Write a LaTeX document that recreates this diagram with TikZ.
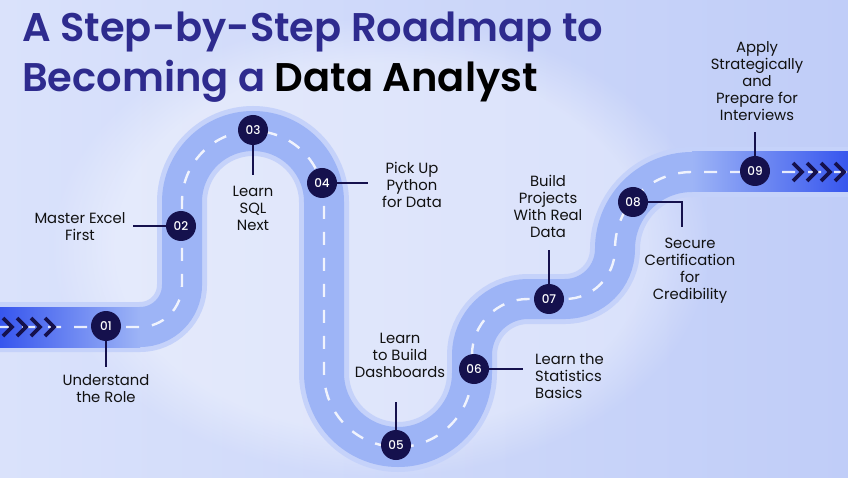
\documentclass[tikz,border=0pt]{standalone}
\usepackage{fontspec}
\setmainfont{Poppins}
\newfontfamily\titlefont{Poppins SemiBold}
\newfontfamily\numfont{Poppins Medium}
\usetikzlibrary{fadings}
\definecolor{navy}{HTML}{15114D}
\definecolor{titlecol}{HTML}{2E2B8E}
\definecolor{roadcol}{HTML}{9DB4F6}
\definecolor{halocol}{HTML}{C5D2FA}
\definecolor{deepblue}{HTML}{3756EE}
\definecolor{bgleft}{HTML}{DAE2FB}
\definecolor{bgright}{HTML}{C0CDF8}
\definecolor{labelcol}{HTML}{111111}
\tikzset{
  stepdot/.style={circle, fill=navy, minimum size=30pt, inner sep=0pt, text=white, font=\numfont\fontsize{12}{12}\selectfont},
  conn/.style={draw=navy, line width=2pt},
  lbl/.style={align=center, inner sep=0pt, text=labelcol, font=\fontsize{14.8}{17}\selectfont},
  chev/.style={draw=navy, line width=3.6pt, line join=miter},
  titletxt/.style={anchor=base west, inner sep=0pt, font=\titlefont\fontsize{40}{48}\selectfont}
}
\def\roadpath{(-30,150) -- (140,150) arc[start angle=-90,end angle=0,radius=42] -- (182,275) arc[start angle=180,end angle=0,radius=71] -- (324,104) arc[start angle=180,end angle=360,radius=74] -- (472,122) arc[start angle=180,end angle=90,radius=56] -- (565,178) arc[start angle=-90,end angle=0,radius=50] arc[start angle=180,end angle=90,radius=77] -- (880,305)}
\begin{document}
\begin{tikzpicture}[x=1pt,y=1pt]
\useasboundingbox (0,0) rectangle (848,477);
% background
\shade[left color=bgleft, right color=bgright] (0,0) rectangle (848,477);
\fill[white, opacity=0.35, path fading=circle with fuzzy edge 20 percent] (380,230) ellipse (330 and 230);
% road
\draw[halocol, line width=50pt] \roadpath;
\draw[roadcol, line width=40pt] \roadpath;
\shade[left color=deepblue, right color=roadcol] (0,130) rectangle (140,170);
\shade[left color=roadcol, right color=deepblue] (692,285) rectangle (848,325);
\draw[white, opacity=0.85, line width=2.4pt, dash pattern=on 13pt off 13pt] \roadpath;
% chevrons
\foreach \xx in {3,17,31,45} {\draw[chev] (\xx,159) -- (\xx+9,150) -- (\xx,141);}
\foreach \xx in {793,807,821,835} {\draw[chev] (\xx,314) -- (\xx+9,305) -- (\xx,296);}
% title
\node[titletxt, text=titlecol] (t1) at (22,435) {A Step-by-Step Roadmap to};
\node[titletxt, text=titlecol] (t2) at (22,385) {Becoming a \textcolor{black}{Data Analyst}};
% connector ends
\coordinate (k1) at (106,110);
\coordinate (k2) at (133,251);
\coordinate (k3) at (253,302);
\coordinate (k4) at (368,294);
\coordinate (k5) at (396,75);
\coordinate (k6) at (523,108);
\coordinate (k7) at (549,227);
\coordinate (k8) at (682,250);
\coordinate (k9) at (755,345);
% step circles
\node[stepdot] (c1) at (106,151) {01};
\node[stepdot] (c2) at (181,251) {02};
\node[stepdot] (c3) at (253,347) {03};
\node[stepdot] (c4) at (322,294) {04};
\node[stepdot] (c5) at (396,32) {05};
\node[stepdot] (c6) at (474,108) {06};
\node[stepdot] (c7) at (549,178) {07};
\node[stepdot] (c8) at (633,275) {08};
\node[stepdot] (c9) at (755,306) {09};
% connectors
\draw[conn] (c1) -- (k1);
\draw[conn] (c2) -- (k2);
\draw[conn] (c3) -- (k3);
\draw[conn] (c4) -- (k4);
\draw[conn] (c5) -- (k5);
\draw[conn] (c6) -- (k6);
\draw[conn] (c7) -- (k7);
\draw[conn] (c8) -| (k8);
\draw[conn] (c9) -- (k9);
% labels
\node[lbl] (l1) at (106,88) {Understand\\the Role};
\node[lbl] (l2) at (80,250) {Master Excel\\First};
\node[lbl] (l3) at (253,269) {Learn\\SQL\\Next};
\node[lbl] (l4) at (412,292) {Pick Up\\Python\\for Data};
\node[lbl] (l5) at (400,122) {Learn\\to Build\\Dashboards};
\node[lbl, align=left, anchor=west] (l6) at (535,101) {Learn the\\Statistics\\Basics};
\node[lbl] (l7) at (548,271) {Build\\Projects\\With Real\\Data};
\node[lbl] (l8) at (690,206) {Secure\\Certification\\for\\Credibility};
\node[lbl] (l9) at (757,396) {Apply\\Strategically\\and\\Prepare for\\Interviews};
\end{tikzpicture}
\end{document}
